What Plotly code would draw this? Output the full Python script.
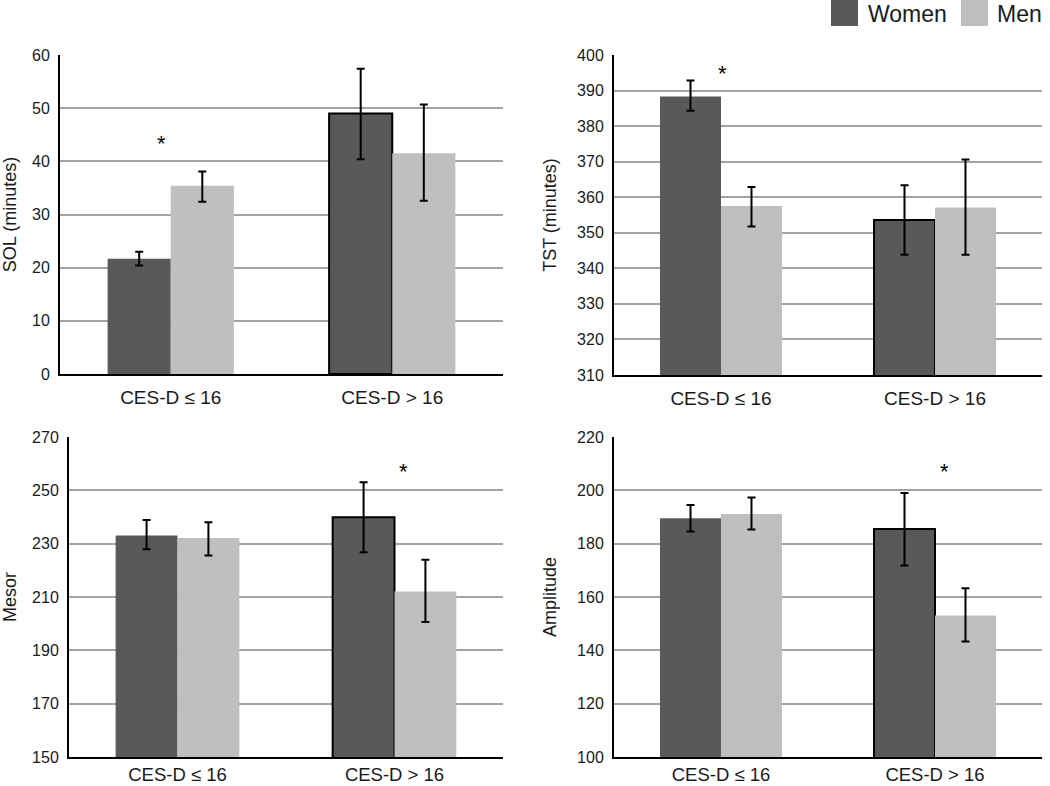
import plotly.graph_objects as go

categories = ["CES-D ≤ 16", "CES-D > 16"]
series_names = ["Women", "Men"]

# SOL (minutes)
sol_women = [21.7, 49.0]
sol_women_lo = [20.4, 40.4]
sol_women_hi = [23.0, 57.4]
sol_men = [35.4, 41.5]
sol_men_lo = [32.4, 32.6]
sol_men_hi = [38.1, 50.7]

# TST (minutes)
tst_women = [388.3, 353.6]
tst_women_lo = [384.3, 343.8]
tst_women_hi = [392.8, 363.4]
tst_men = [357.5, 357.1]
tst_men_lo = [351.8, 343.8]
tst_men_hi = [362.9, 370.6]

# Mesor
mesor_women = [233.1, 239.9]
mesor_women_lo = [227.9, 226.8]
mesor_women_hi = [238.9, 253.0]
mesor_men = [232.1, 212.1]
mesor_men_lo = [225.6, 200.6]
mesor_men_hi = [238.0, 224.0]

# Amplitude
amp_women = [189.5, 185.5]
amp_women_lo = [184.6, 171.8]
amp_women_hi = [194.5, 199.0]
amp_men = [191.1, 153.1]
amp_men_lo = [185.3, 143.3]
amp_men_hi = [197.3, 163.3]

# significance markers: (category index, y value)
sol_star = (0, 43.5)
tst_star = (0, 395.0)
mesor_star = (1, 257.5)
amp_star = (1, 207.5)

W, H = 1050, 786
FONT = "Liberation Sans, Arial, sans-serif"
DARK = "#595959"
LIGHT = "#bfbfbf"

def px_x(a, b):
    return [a / W, b / W]

def px_y(top, bottom):
    return [1 - bottom / H, 1 - top / H]

panels = [
    dict(title="SOL (minutes)", w=sol_women, wlo=sol_women_lo, whi=sol_women_hi,
         m=sol_men, mlo=sol_men_lo, mhi=sol_men_hi, rng=[0, 60], dtick=10,
         xd=px_x(60, 503), yd=px_y(55, 374), star=sol_star, sx=-9, xs=5, xf=19),
    dict(title="TST (minutes)", w=tst_women, wlo=tst_women_lo, whi=tst_women_hi,
         m=tst_men, mlo=tst_men_lo, mhi=tst_men_hi, rng=[310, 400], dtick=10,
         xd=px_x(614, 1042), yd=px_y(55, 375), star=tst_star, sx=1, xs=5, xf=19),
    dict(title="Mesor", w=mesor_women, wlo=mesor_women_lo, whi=mesor_women_hi,
         m=mesor_men, mlo=mesor_men_lo, mhi=mesor_men_hi, rng=[150, 270], dtick=20,
         xd=px_x(69, 503), yd=px_y(437, 757), star=mesor_star, sx=9, xs=0, xf=18.5),
    dict(title="Amplitude", w=amp_women, wlo=amp_women_lo, whi=amp_women_hi,
         m=amp_men, mlo=amp_men_lo, mhi=amp_men_hi, rng=[100, 220], dtick=20,
         xd=px_x(614, 1042), yd=px_y(437, 757), star=amp_star, sx=9, xs=0, xf=18.5),
]

fig = go.Figure()
annotations = []
layout = {}

for i, p in enumerate(panels, start=1):
    xa = "x" if i == 1 else f"x{i}"
    ya = "y" if i == 1 else f"y{i}"
    for name, vals, lo, hi, color, lw in [
        ("Women", p["w"], p["wlo"], p["whi"], DARK, [0, 2]),
        ("Men", p["m"], p["mlo"], p["mhi"], LIGHT, [0, 0]),
    ]:
        fig.add_trace(go.Bar(
            x=categories, y=vals, name=name, xaxis=xa, yaxis=ya,
            marker=dict(color=color, line=dict(color="black", width=lw)),
            error_y=dict(type="data", symmetric=False,
                         array=[h - v for h, v in zip(hi, vals)],
                         arrayminus=[v - l for v, l in zip(vals, lo)],
                         color="black", thickness=2, width=4),
            showlegend=False, hoverinfo="skip",
        ))
    xkey = "xaxis" if i == 1 else f"xaxis{i}"
    ykey = "yaxis" if i == 1 else f"yaxis{i}"
    layout[xkey] = dict(domain=p["xd"], anchor=ya, showline=True, linecolor="black",
                        linewidth=2, showgrid=False, zeroline=False, ticks="",
                        automargin=False,
                        tickfont=dict(family=FONT, size=p["xf"], color="#1a1a1a"),
                        ticklabelstandoff=p["xs"], fixedrange=True)
    layout[ykey] = dict(domain=p["yd"], anchor=xa, range=p["rng"], dtick=p["dtick"],
                        tick0=p["rng"][0], automargin=False,
                        showline=True, linecolor="black", linewidth=2,
                        showgrid=True, gridcolor="#a3a3a3", gridwidth=2,
                        zeroline=False, ticks="",
                        tickfont=dict(family=FONT, size=16, color="#1a1a1a"),
                        ticklabelstandoff=5,
                        title=dict(text=p["title"], standoff=16,
                                   font=dict(family=FONT, size=18, color="#1a1a1a")),
                        fixedrange=True)
    ci, sy = p["star"]
    annotations.append(dict(x=categories[ci], y=sy, xref=xa, yref=ya, text="*",
                            showarrow=False, xshift=p["sx"], yshift=-1,
                            font=dict(family=FONT, size=22, color="black")))

# legend (manual, large swatches)
shapes = [
    dict(type="rect", xref="paper", yref="paper", x0=831 / W, x1=858 / W,
         y0=1 - 26 / H, y1=1, fillcolor=DARK, line=dict(width=0)),
    dict(type="rect", xref="paper", yref="paper", x0=961 / W, x1=988 / W,
         y0=1 - 26 / H, y1=1, fillcolor=LIGHT, line=dict(width=0)),
]
annotations.append(dict(x=866 / W, y=1 - 14 / H, xref="paper", yref="paper",
                        text=series_names[0], showarrow=False, xanchor="left",
                        yanchor="middle", font=dict(family=FONT, size=23, color="#1a1a1a")))
annotations.append(dict(x=995 / W, y=1 - 14 / H, xref="paper", yref="paper",
                        text=series_names[1], showarrow=False, xanchor="left",
                        yanchor="middle", font=dict(family=FONT, size=23, color="#1a1a1a")))

fig.update_layout(
    width=W, height=H,
    margin=dict(l=0, r=0, t=0, b=0, autoexpand=False),
    paper_bgcolor="white", plot_bgcolor="white",
    barmode="group", bargap=0.43, bargroupgap=0,
    annotations=annotations, shapes=shapes,
    showlegend=False,
    **layout,
)

fig.write_html("out.html",
               config={"displayModeBar": False, "staticPlot": True},
               post_script="document.body.style.margin='0px';"
                           "document.body.style.overflow='hidden';")
